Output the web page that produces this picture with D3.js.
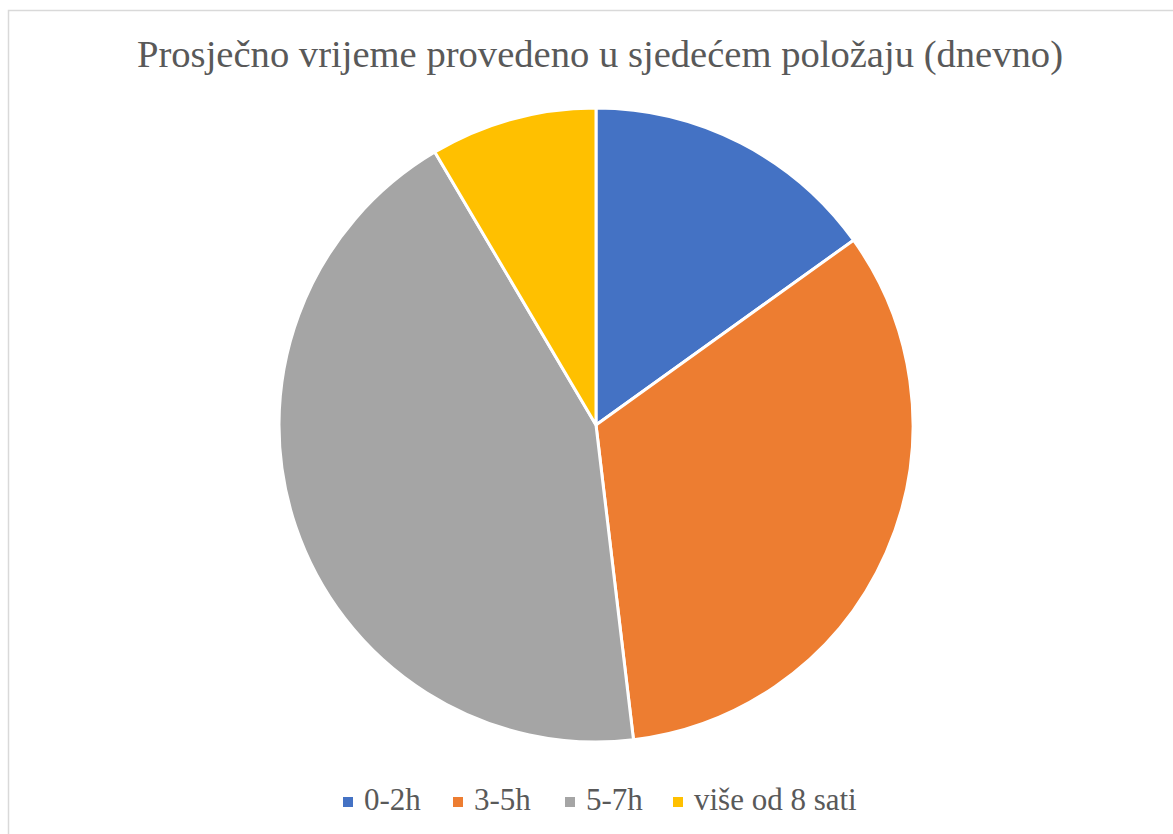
<!DOCTYPE html>
<html>
<head>
<meta charset="utf-8">
<script src="https://cdn.jsdelivr.net/npm/d3@7"></script>
<style>
  html, body { margin: 0; padding: 0; background: #fff; }
  svg { display: block; }
  text { font-family: "Liberation Serif", "Times New Roman", serif; }
</style>
</head>
<body>
<svg id="chart" width="1173" height="834"></svg>
<script>
const title = "Prosječno vrijeme provedeno u sjedećem položaju (dnevno)";
const categories = ["0-2h", "3-5h", "5-7h", "više od 8 sati"];
const values = [16, 35, 46, 9];
const colors = ["#4472C4", "#ED7D31", "#A5A5A5", "#FFC000"];

const svg = d3.select("#chart");
const W = 1173, H = 834;

// chart border
svg.append("rect")
  .attr("x", 8.5).attr("y", 10.5)
  .attr("width", W + 10).attr("height", H + 10)
  .attr("fill", "#fff").attr("stroke", "#d9d9d9").attr("stroke-width", 1.5);

// title
svg.append("text")
  .attr("x", 600).attr("y", 67)
  .attr("text-anchor", "middle")
  .attr("font-size", 38)
  .attr("fill", "#595959")
  .attr("textLength", 926)
  .attr("lengthAdjust", "spacingAndGlyphs")
  .text(title);

// pie
const cx = 596, cy = 425, r = 317;
const pie = d3.pie().sort(null).value(d => d)(values);
const arc = d3.arc().innerRadius(0).outerRadius(r);
const color = d3.scaleOrdinal().domain(categories).range(colors);

svg.append("g")
  .attr("transform", `translate(${cx},${cy})`)
  .selectAll("path")
  .data(pie)
  .join("path")
  .attr("d", arc)
  .attr("fill", (d, i) => color(categories[i]))
  .attr("stroke", "#fff")
  .attr("stroke-width", 3)
  .attr("stroke-linejoin", "round");

// legend
const legendX = [343, 453, 565, 673];
const lg = svg.append("g");
categories.forEach((c, i) => {
  lg.append("rect")
    .attr("x", legendX[i]).attr("y", 797)
    .attr("width", 10).attr("height", 10)
    .attr("fill", color(c));
  lg.append("text")
    .attr("x", legendX[i] + 21).attr("y", 810)
    .attr("font-size", 31)
    .attr("fill", "#595959")
    .text(c);
});
</script>
</body>
</html>
